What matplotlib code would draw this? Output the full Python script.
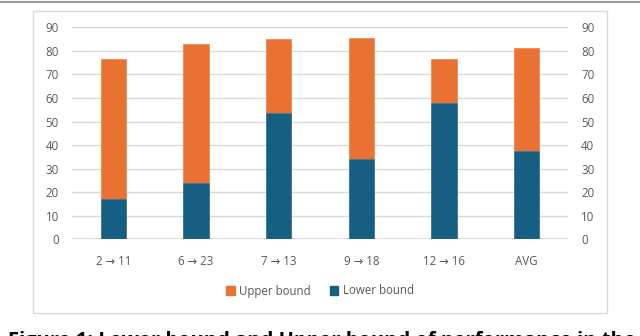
import matplotlib.pyplot as plt
import matplotlib.patches as patches
from matplotlib.lines import Line2D

plt.rcParams['font.family'] = ['Open Sans', 'DejaVu Sans']

categories = ['2 → 11', '6 → 23', '7 → 13', '9 → 18', '12 → 16', 'AVG']
lower_bound = [17.1, 23.9, 53.5, 34.1, 57.9, 37.4]
upper_bound = [76.5, 82.9, 84.9, 85.3, 76.7, 81.2]

ORANGE = '#E97132'
BLUE = '#156082'
GRID = '#D9D9D9'
TEXT = '#595959'


def main():
    fig = plt.figure(figsize=(6.4, 3.36), dpi=100)

    # thin rule at the very top and the chart frame
    fig.add_artist(Line2D([0, 1], [1 - 1.5 / 336] * 2, color='#9A9A9A', lw=1.5,
                          transform=fig.transFigure))
    fig.add_artist(patches.Rectangle((33 / 640, 1 - 313 / 336), 574 / 640, 302 / 336,
                                     transform=fig.transFigure, fill=False,
                                     edgecolor=GRID, lw=1))

    ax = fig.add_axes([72 / 640, 1 - 239.3 / 336, 496 / 640, 212 / 336])
    x = list(range(len(categories)))

    ax.bar(x, upper_bound, width=0.31, color=ORANGE, edgecolor='#F2884F', lw=0.6,
           label='Upper bound', zorder=3)
    ax.bar(x, lower_bound, width=0.31, color=BLUE, edgecolor='#3A7C99', lw=0.6,
           label='Lower bound', zorder=4)

    ax.set_xlim(-0.5, len(categories) - 0.5)
    ax.set_ylim(0, 90)
    ax.set_yticks(range(0, 91, 10))
    ax.yaxis.grid(True, color=GRID, lw=1)
    ax.set_axisbelow(True)
    for s in ax.spines.values():
        s.set_visible(False)
    ax.axhline(0, color=GRID, lw=1.3, zorder=2)

    ax.set_xticks(x)
    ax.set_xticklabels(categories)
    ax.tick_params(axis='x', length=0, pad=11.5, labelsize=8.3, labelcolor=TEXT)
    ax.tick_params(axis='y', length=0, pad=9.5, labelsize=8.3, labelcolor=TEXT,
                   labelright=True)

    handles = [patches.Patch(color=ORANGE), patches.Patch(color=BLUE)]
    fig.legend(handles, ['Upper bound', 'Lower bound'], loc='center',
               bbox_to_anchor=(0.5, 1 - 291 / 336), ncol=2, frameon=False,
               fontsize=8.3, labelcolor=TEXT, handlelength=0.75, handleheight=0.75,
               handletextpad=0.4, columnspacing=1.6)

    # caption of the figure, cut off by the bottom edge like in the source
    fig.text(8 / 640, -0.029, 'Figure 1: Lower bound and Upper bound of performance in the',
             fontsize=14.5, fontweight='bold', color='black', ha='left', va='baseline')

    fig.savefig('out.png', dpi=100)


if __name__ == '__main__':
    main()
